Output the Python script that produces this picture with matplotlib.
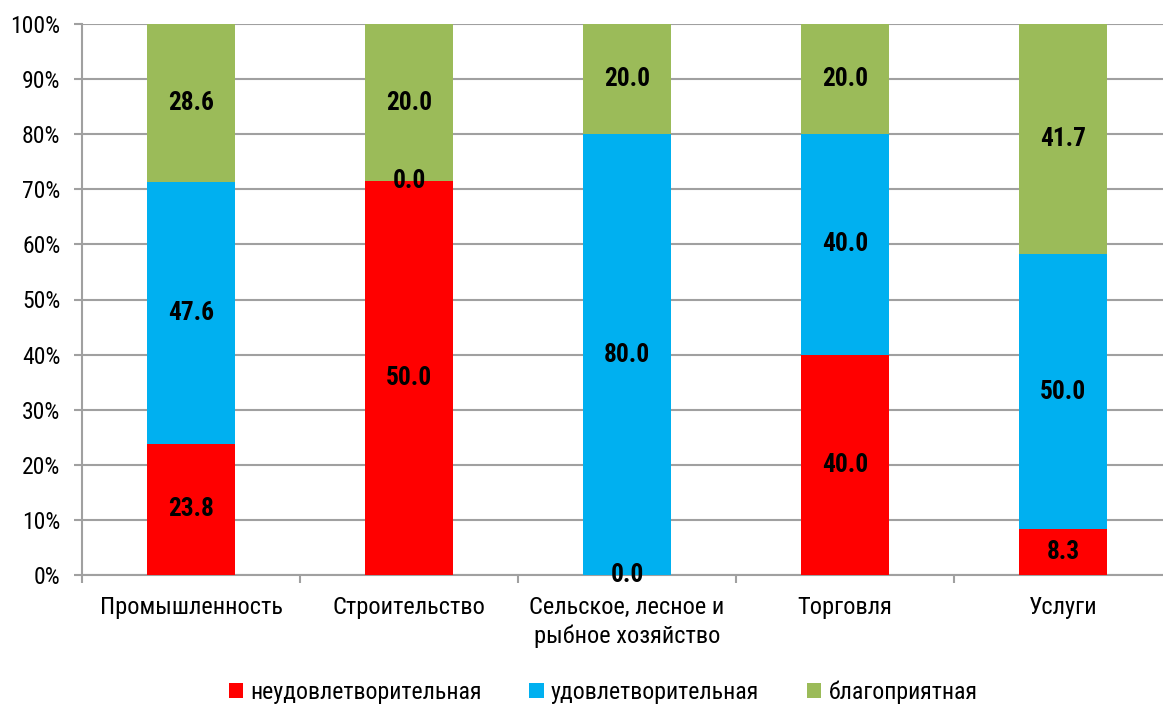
import matplotlib
matplotlib.use("Agg")
import matplotlib.pyplot as plt
import numpy as np

plt.rcParams['font.family'] = ['Roboto Condensed', 'PT Sans Narrow', 'Liberation Sans', 'DejaVu Sans']

categories = ["Промышленность", "Строительство", "Сельское, лесное и\nрыбное хозяйство", "Торговля", "Услуги"]
series_names = ["неудовлетворительная", "удовлетворительная", "благоприятная"]
unsat = [23.8, 50.0, 0.0, 40.0, 8.3]
sat = [47.6, 0.0, 80.0, 40.0, 50.0]
fav = [28.6, 20.0, 20.0, 20.0, 41.7]
colors = ["#FF0000", "#00B0F0", "#9BBB59"]
yticks = [0, 10, 20, 30, 40, 50, 60, 70, 80, 90, 100]

W, H = 1163, 706
fig = plt.figure(figsize=(W/100, H/100), dpi=100)
ax = fig.add_axes([82/W, (H-575)/H, 1090/W, 551/H])

data = np.array([unsat, sat, fav])
totals = data.sum(axis=0)
pct = data / totals * 100
x = np.arange(len(categories))
bottom = np.zeros(len(categories))
for i in range(3):
    ax.bar(x, pct[i], bottom=bottom, width=0.404, color=colors[i], label=series_names[i], zorder=3)
    for j in range(len(categories)):
        ax.text(x[j], bottom[j] + pct[i][j]/2, f"{data[i][j]:.1f}", ha='center', va='center',
                fontsize=18.3, fontweight='bold', color='black', zorder=5)
    bottom += pct[i]

ax.set_xlim(-0.5, len(categories) - 0.5)
ax.set_ylim(0, 100)
ax.set_yticks(yticks)
ax.set_yticklabels([f"{v}%" for v in yticks], fontsize=17)
ax.yaxis.grid(True, color='#A0A0A0', linewidth=1.5, zorder=0)
ax.set_axisbelow(True)
ax.set_xticks(x)
ax.set_xticklabels(categories, fontsize=17.6, linespacing=1.3)
ax.tick_params(axis='x', length=0, pad=15)
ax.set_xticks(np.arange(-0.5, len(categories)+0.5, 1), minor=True)
ax.tick_params(axis='x', which='minor', length=5.5, width=1.5, color='#A0A0A0')
ax.tick_params(axis='y', length=5.5, width=1.5, color='#A0A0A0', pad=10)
for s in ['top', 'right']:
    ax.spines[s].set_visible(False)
for s in ['left', 'bottom']:
    ax.spines[s].set_color('#A0A0A0')
    ax.spines[s].set_linewidth(1.5)

leg = fig.legend(loc='center', bbox_to_anchor=(603/W, (H-692)/H), ncol=3, frameon=False,
                 fontsize=17.2, handlelength=0.6, handleheight=0.6, handletextpad=0.3, columnspacing=2.0)

fig.savefig("out.png", dpi=100)
